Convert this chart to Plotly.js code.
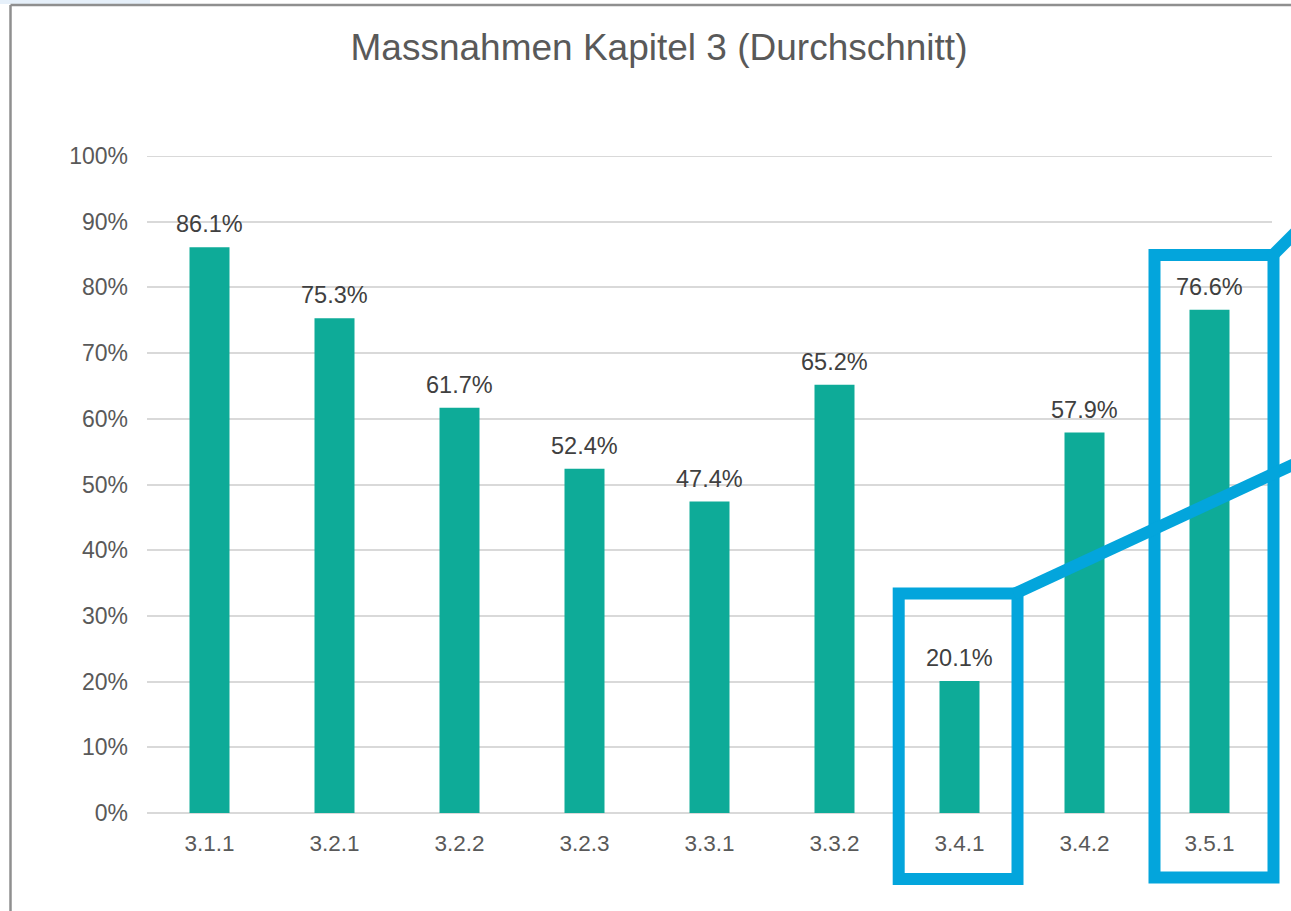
<!DOCTYPE html>
<html>
<head>
<meta charset="utf-8">
<script src="https://cdn.plot.ly/plotly-3.0.1.min.js"></script>
<style>
  html, body { margin: 0; padding: 0; background: #ffffff; }
  #chart { width: 1291px; height: 911px; }
</style>
</head>
<body>
<div id="chart"></div>
<script>
// ---- Data ----
const categories = ["3.1.1", "3.2.1", "3.2.2", "3.2.3", "3.3.1", "3.3.2", "3.4.1", "3.4.2", "3.5.1"];
const values = [0.861, 0.753, 0.617, 0.524, 0.474, 0.652, 0.201, 0.579, 0.766];
const valueLabels = ["86.1%", "75.3%", "61.7%", "52.4%", "47.4%", "65.2%", "20.1%", "57.9%", "76.6%"];
const titleText = "Massnahmen Kapitel 3 (Durchschnitt)";
const yMax = 1;

// ---- Layout geometry (pixels) ----
const W = 1291, H = 911;
const M = { l: 147, r: 19, t: 156, b: 98 };
const plotW = W - M.l - M.r;
const plotH = H - M.t - M.b;
const px = x => (x - M.l) / plotW;          // pixel x -> paper
const py = y => (H - M.b - y) / plotH;      // pixel y -> paper

const blue = "#03a5dc";
const gridColor = "#d9d9d9";
const font = "Liberation Sans, Arial, sans-serif";

const shapes = [
  // light tint at top-left corner
  { type: "rect", xref: "paper", yref: "paper", x0: px(0), x1: px(150), y0: py(0), y1: py(4),
    fillcolor: "#e6f0fa", line: { width: 0 }, layer: "below" },
  // top gridline (100%)
  { type: "line", xref: "paper", yref: "y", x0: 0, x1: 1, y0: yMax, y1: yMax,
    line: { color: gridColor, width: 2 }, layer: "below" },
  // outer frame (top and left edges)
  { type: "line", xref: "paper", yref: "paper", x0: px(10.5), x1: px(1300), y0: py(5), y1: py(5),
    line: { color: "#8f8f8f", width: 2.5 } },
  { type: "line", xref: "paper", yref: "paper", x0: px(10.5), x1: px(10.5), y0: py(5), y1: py(920),
    line: { color: "#8f8f8f", width: 2.5 } },
  // highlight box around 3.4.1
  { type: "rect", xref: "paper", yref: "paper", x0: px(898.7), x1: px(1017.5), y0: py(879), y1: py(593.5),
    line: { color: blue, width: 12 }, fillcolor: "rgba(0,0,0,0)" },
  // highlight box around 3.5.1
  { type: "rect", xref: "paper", yref: "paper", x0: px(1154.5), x1: px(1273.5), y0: py(877.5), y1: py(255),
    line: { color: blue, width: 12 }, fillcolor: "rgba(0,0,0,0)" },
  // connector lines
  { type: "line", xref: "paper", yref: "paper", x0: px(1014), x1: px(1300), y0: py(594), y1: py(461.5),
    line: { color: blue, width: 12 } },
  { type: "line", xref: "paper", yref: "paper", x0: px(1270), x1: px(1302), y0: py(258), y1: py(226),
    line: { color: blue, width: 12 } }
];

const annotations = categories.map((c, i) => ({
  x: c, y: values[i], xref: "x", yref: "y",
  text: valueLabels[i], showarrow: false,
  yanchor: "bottom", xanchor: "center", yshift: 8,
  font: { family: font, size: 23.5, color: "#404040" }
}));

const trace = {
  type: "bar",
  x: categories,
  y: values,
  marker: { color: "#0eab98" },
  hoverinfo: "none"
};

const layout = {
  width: W, height: H,
  autosize: false,
  margin: M,
  paper_bgcolor: "#ffffff",
  plot_bgcolor: "#ffffff",
  bargap: 0.68,
  showlegend: false,
  title: {
    text: titleText,
    font: { family: font, size: 37, color: "#595959" },
    x: 659 / W, xref: "container", xanchor: "center",
    y: 1 - 47 / H, yref: "container", yanchor: "middle"
  },
  xaxis: {
    type: "category",
    showgrid: false,
    showline: false,
    zeroline: false,
    ticks: "",
    ticklabelstandoff: 14,
    tickfont: { family: font, size: 22.5, color: "#595959" }
  },
  yaxis: {
    range: [0, yMax],
    dtick: 0.1,
    tick0: 0,
    tickformat: ".0%",
    showgrid: true,
    gridcolor: gridColor,
    gridwidth: 2,
    zeroline: true,
    zerolinecolor: gridColor,
    zerolinewidth: 2,
    showline: false,
    ticks: "",
    ticklabelstandoff: 18,
    tickfont: { family: font, size: 23, color: "#595959" }
  },
  shapes: shapes,
  annotations: annotations
};

Plotly.newPlot("chart", [trace], layout, { staticPlot: true, displayModeBar: false });
</script>
</body>
</html>
